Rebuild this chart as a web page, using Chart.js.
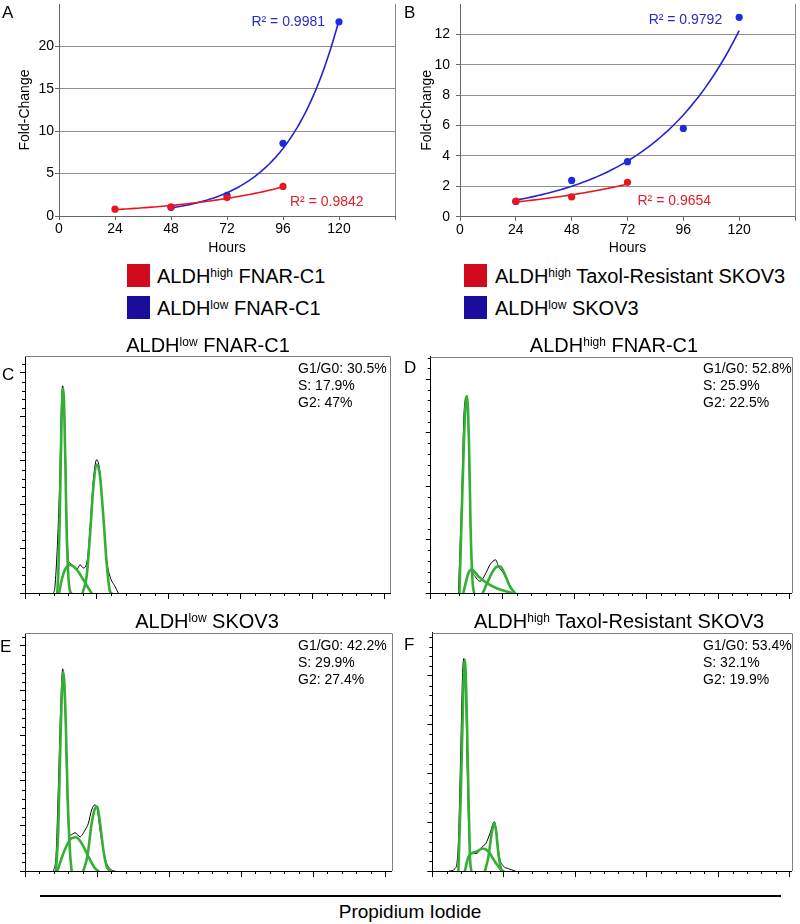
<!DOCTYPE html>
<html>
<head>
<meta charset="utf-8">
<script src="https://cdn.jsdelivr.net/npm/chart.js@4.4.1/dist/chart.umd.min.js"></script>
<style>
  body { margin: 0; width: 800px; height: 924px; position: relative; background: #fff; overflow: hidden;
         font-family: "Liberation Sans", Arial, Helvetica, sans-serif; color: #000; }
  canvas { position: absolute; }
  .t { position: absolute; white-space: nowrap; line-height: 1; }
  .t sup { font-size: 12px; vertical-align: 6px; line-height: 0; }
  .letter { font-size: 17px; }
  .leg { font-size: 20px; }
  .sw { position: absolute; width: 23px; height: 23px; }
  .ttl { font-size: 20px; transform: translateX(-50%); }
  .ann { position: absolute; font-size: 14px; line-height: 17.2px; white-space: nowrap; }
  .rule { position: absolute; left: 40px; top: 895px; width: 741px; height: 2px; background: #000; }
</style>
</head>
<body>
<canvas id="chartA" width="400" height="260" style="left:0;top:0"></canvas>
<canvas id="chartB" width="400" height="260" style="left:400px;top:0"></canvas>
<canvas id="chartC" width="400" height="260" style="left:0;top:350px"></canvas>
<canvas id="chartD" width="400" height="260" style="left:400px;top:350px"></canvas>
<canvas id="chartE" width="400" height="260" style="left:0;top:627px"></canvas>
<canvas id="chartF" width="400" height="260" style="left:400px;top:627px"></canvas>

<div class="t letter" style="left:2px;top:4px">A</div>
<div class="t letter" style="left:404px;top:4px">B</div>
<div class="t letter" style="left:2px;top:366px">C</div>
<div class="t letter" style="left:404px;top:359px">D</div>
<div class="t letter" style="left:0;top:638px">E</div>
<div class="t letter" style="left:404px;top:636px">F</div>

<div class="sw" style="left:127px;top:264px;background:#d20a1e"></div>
<div class="t leg" style="left:157px;top:266px">ALDH<sup>high</sup> FNAR-C1</div>
<div class="sw" style="left:127px;top:296px;background:#1a0d9e"></div>
<div class="t leg" style="left:157px;top:298px">ALDH<sup>low</sup> FNAR-C1</div>
<div class="sw" style="left:464px;top:264px;background:#d20a1e"></div>
<div class="t leg" style="left:495px;top:266px">ALDH<sup>high</sup> Taxol-Resistant SKOV3</div>
<div class="sw" style="left:464px;top:296px;background:#1a0d9e"></div>
<div class="t leg" style="left:495px;top:298px">ALDH<sup>low</sup> SKOV3</div>

<div class="t ttl" style="left:208px;top:335px">ALDH<sup>low</sup> FNAR-C1</div>
<div class="t ttl" style="left:614px;top:335px">ALDH<sup>high</sup> FNAR-C1</div>
<div class="t ttl" style="left:207px;top:611px">ALDH<sup>low</sup> SKOV3</div>
<div class="t ttl" style="left:619px;top:611px">ALDH<sup>high</sup> Taxol-Resistant SKOV3</div>

<div class="ann" style="left:298px;top:360px">G1/G0: 30.5%<br>S: 17.9%<br>G2: 47%</div>
<div class="ann" style="left:703px;top:360px">G1/G0: 52.8%<br>S: 25.9%<br>G2: 22.5%</div>
<div class="ann" style="left:298px;top:637px">G1/G0: 42.2%<br>S: 29.9%<br>G2: 27.4%</div>
<div class="ann" style="left:703px;top:637px">G1/G0: 53.4%<br>S: 32.1%<br>G2: 19.9%</div>

<div class="rule"></div>
<div class="t" style="left:410px;top:902px;font-size:19px;transform:translateX(-50%)">Propidium Iodide</div>

<script>
const FONT = '"Liberation Sans", Arial, Helvetica, sans-serif';
const RED = '#e8161e';
const BLUE = '#1c2ce6';
const BLUE_LINE = '#2323cf';
const GREEN = '#33b033';

// --- growth curves (fold-change vs hours) ---
const hourTicks = [0, 24, 48, 72, 96, 120, 144];
const hourTickLabels = ['0', '24', '48', '72', '96', '120', ''];

const hoursA_high = [24, 48, 72, 96];
const foldA_high = [0.81, 1.08, 2.17, 3.49];
const hoursA_low = [48, 72, 96, 120];
const foldA_low = [1.0, 2.44, 8.57, 22.9];
const foldTicksA = [0, 5, 10, 15, 20];
const r2TextA = ['R\u00b2 = 0.9981', 'R\u00b2 = 0.9842'];

const hoursB_high = [24, 48, 72];
const foldB_high = [1.02, 1.3, 2.26];
const hoursB_low = [24, 48, 72, 96, 120];
const foldB_low = [1.0, 2.39, 3.62, 5.81, 13.12];
const foldTicksB = [0, 2, 4, 6, 8, 10, 12];
const r2TextB = ['R\u00b2 = 0.9792', 'R\u00b2 = 0.9654'];

// --- DNA content histograms: [channel, count] ---
const histMajorX = [0, 50, 100, 150, 200, 250];
const histMajorY = [0, 100, 200, 300, 400, 500];

const rawC = [[19.7,0],[20.8,15],[23.8,220],[25.5,447],[26.2,471],[27.8,371],[28.9,182],[30.1,76],[31.3,68],[33.6,61],[35.9,53],[38.2,64],[40.5,57],[43.3,76],[45.1,144],[47.5,258],[49.8,303],[52.1,273],[54.4,174],[56.7,76],[59,38],[62.5,15],[64.8,0]];
const g1C = [[22.4,0],[23.3,60],[24.2,182],[25.5,409],[26.6,466],[27.8,333],[28.9,144],[30.1,38],[31.3,4],[32,0]];
const sC = [[23.7,0],[25.5,30],[27.8,53],[31.3,64],[35.9,53],[40.5,30],[44,11],[46.3,0]];
const g2C = [[40,0],[42.8,38],[45.1,129],[47.5,242],[50,292],[52.1,265],[54.4,174],[56.7,68],[59,4],[60,0]];

const rawD = [[19.3,0],[21.6,181],[23.2,336],[25.1,368],[26.2,305],[27.4,150],[28.5,56],[30.9,31],[34.3,22],[37.8,34],[41.3,53],[45.2,62],[47.1,50],[50.6,37],[54.1,19],[58.7,0]];
const g1D = [[20,0],[22.3,212],[23.9,336],[25.3,368],[26.7,274],[27.8,118],[29.2,19],[30.2,0]];
const sD = [[22.7,0],[26.2,37],[28.5,44],[33.2,31],[39,19],[45.9,9],[56.4,0]];
const g2D = [[36.2,0],[39.4,19],[42.5,37],[45.9,49],[48.3,50],[51.7,34],[55.2,12],[58.7,0]];

const rawE = [[19.7,0],[21.5,32],[23.1,180],[24.8,365],[26.2,449],[27.8,365],[28.9,213],[30.1,104],[31.7,80],[34.7,85],[38.2,76],[41.7,91],[44,106],[46.3,136],[48.6,147],[50.2,136],[52.1,91],[54.4,47],[56.7,17],[60.2,2],[62.5,0]];
const g1E = [[21.5,0],[23.1,91],[24.8,313],[26.6,443],[28.2,343],[29.6,165],[31.3,39],[32.4,0]];
const sE = [[22.5,0],[26.6,39],[31.3,70],[35.4,75],[39.4,61],[44,32],[48.6,6],[50.9,0]];
const g2E = [[40.5,0],[43.3,32],[46.3,106],[48.6,139],[50.2,143],[52.1,106],[54.4,47],[56.7,10],[59,0]];

const rawF = [[12,0],[15.9,5],[18.2,57],[19.8,236],[21.2,407],[22.1,436],[23.3,371],[24.5,200],[25.9,57],[27.5,36],[31,36],[34.5,49],[37.5,57],[40.3,77],[43.4,101],[45,77],[46.9,29],[49.7,10],[53.1,5],[57.8,0]];
const g1F = [[18.2,0],[20,166],[21.7,371],[22.8,433],[24,337],[25.2,166],[26.3,29],[27.3,0]];
const sF = [[22.8,0],[25.2,29],[27.5,36],[31,40],[35.2,46],[39.2,40],[43.8,19],[48.5,0]];
const g2F = [[36.8,0],[39.2,29],[41.5,77],[43.4,98],[44.5,84],[46.2,36],[48,5],[49.7,0]];

const toPts = (xs, ys) => xs.map((x, i) => ({ x: x, y: ys[i] }));
const fromPairs = arr => arr.map(p => ({ x: p[0], y: p[1] }));

// exponential trendline y = e^(a + b x), least squares on ln(y) (same as the spreadsheet fit)
function expFit(xs, ys) {
    let n = xs.length, sx = 0, sy = 0, sxy = 0, sxx = 0;
    xs.forEach((x, i) => {
        let ly = Math.log(ys[i]);
        sx += x; sy += ly; sxy += x * ly; sxx += x * x;
    });
    let b = (n * sxy - sx * sy) / (n * sxx - sx * sx);
    let a = (sy - b * sx) / n;
    return { a, b };
}

function trendLine(xs, ys) {
    const f = expFit(xs, ys);
    const x0 = xs[0], x1 = xs[xs.length - 1];
    const out = [];
    for (let i = 0; i <= 60; i++) {
        const x = x0 + (x1 - x0) * i / 60;
        out.push({ x: x, y: Math.exp(f.a + f.b * x) });
    }
    return out;
}

const r2Plugin = {
    id: 'r2labels',
    afterDatasetsDraw(chart, args, opts) {
        const ctx = chart.ctx, xs = chart.scales.x, ys = chart.scales.y;
        ctx.save();
        ctx.font = '14px ' + FONT;
        ctx.textBaseline = 'middle';
        (opts.items || []).forEach(it => {
            ctx.fillStyle = it.color;
            ctx.textAlign = it.align;
            ctx.fillText(it.text, xs.getPixelForValue(it.x), ys.getPixelForValue(it.y));
        });
        ctx.restore();
    }
};

const rightEdge = {
    id: 'rightEdge',
    beforeDatasetsDraw(chart) {
        const { ctx, chartArea: a } = chart;
        ctx.save();
        ctx.strokeStyle = '#8a8a8a';
        ctx.lineWidth = 1;
        ctx.beginPath();
        ctx.moveTo(Math.round(a.right) + 0.5, a.top);
        ctx.lineTo(Math.round(a.right) + 0.5, a.bottom);
        ctx.stroke();
        ctx.restore();
    }
};

function noPad(s) {
    s.paddingTop = 0; s.paddingBottom = 0; s.paddingLeft = 0; s.paddingRight = 0;
}

function growthChart(id, cfg) {
    return new Chart(document.getElementById(id), {
        type: 'scatter',
        data: {
            datasets: [
                { data: toPts(cfg.hx, cfg.hy), backgroundColor: RED, borderColor: RED, pointRadius: 3.6, pointBorderWidth: 0 },
                { data: toPts(cfg.lx, cfg.ly), backgroundColor: BLUE, borderColor: BLUE, pointRadius: 3.6, pointBorderWidth: 0 },
                { data: trendLine(cfg.hx, cfg.hy), showLine: true, borderColor: RED, borderWidth: 1.6, pointRadius: 0, fill: false },
                { data: trendLine(cfg.lx, cfg.ly), showLine: true, borderColor: BLUE_LINE, borderWidth: 1.6, pointRadius: 0, fill: false }
            ]
        },
        plugins: [rightEdge, r2Plugin],
        options: {
            responsive: false,
            animation: false,
            events: [],
            layout: { padding: { top: cfg.padTop, right: 5, bottom: 3, left: 0 } },
            plugins: {
                legend: { display: false },
                tooltip: { enabled: false },
                r2labels: { items: cfg.r2 }
            },
            scales: {
                x: {
                    type: 'linear', min: 0, max: 144,
                    afterBuildTicks: s => { s.ticks = hourTicks.map(v => ({ value: v })); },
                    afterFit: s => { s.height = cfg.xAxisH; noPad(s); },
                    grid: { drawOnChartArea: false, tickLength: 4, tickColor: '#666' },
                    border: { color: '#666' },
                    ticks: { color: '#000', font: { size: 14, family: FONT }, padding: 1, maxRotation: 0,
                             callback: (v, i) => hourTickLabels[i] },
                    title: { display: true, text: 'Hours', color: '#000', font: { size: 14, family: FONT },
                             padding: { top: 0, bottom: 0 } }
                },
                y: {
                    min: 0, max: cfg.yMax,
                    afterBuildTicks: s => { s.ticks = cfg.yTicks.map(v => ({ value: v })); },
                    afterFit: s => { s.width = cfg.yAxisW; noPad(s); },
                    grid: { color: '#8f8f8f', tickLength: 4, tickColor: '#666' },
                    border: { color: '#666' },
                    ticks: { color: '#000', font: { size: 14, family: FONT }, padding: cfg.yTickPad },
                    title: { display: true, text: 'Fold-Change', color: '#000', font: { size: 14, family: FONT },
                             padding: { top: cfg.titlePad, bottom: 0 } }
                }
            }
        }
    });
}

growthChart('chartA', {
    hx: hoursA_high, hy: foldA_high, lx: hoursA_low, ly: foldA_low,
    yMax: 25, yTicks: foldTicksA, yAxisW: 59, padTop: 1, xAxisH: 41, titlePad: 16.6, yTickPad: 1,
    r2: [
        { text: r2TextA[0], x: 114, y: 22.9, color: '#2a2ac8', align: 'right' },
        { text: r2TextA[1], x: 99, y: 1.63, color: '#e0202a', align: 'left' }
    ]
});

growthChart('chartB', {
    hx: hoursB_high, hy: foldB_high, lx: hoursB_low, ly: foldB_low,
    yMax: 14, yTicks: foldTicksB, yAxisW: 60, padTop: 1.5, xAxisH: 40.3, titlePad: 19, yTickPad: 6,
    r2: [
        { text: r2TextB[0], x: 112.7, y: 12.93, color: '#2a2ac8', align: 'right' },
        { text: r2TextB[1], x: 76.3, y: 1.02, color: '#e0202a', align: 'left' }
    ]
});

// box + minor ticks for the histograms
const histFrame = {
    id: 'histFrame',
    beforeDatasetsDraw(chart) {
        const { ctx, chartArea: a } = chart;
        ctx.save();
        ctx.strokeStyle = '#808080';
        ctx.lineWidth = 1;
        ctx.beginPath();
        ctx.moveTo(a.left, Math.round(a.top) + 0.5);
        ctx.lineTo(Math.round(a.right) + 0.5, Math.round(a.top) + 0.5);
        ctx.lineTo(Math.round(a.right) + 0.5, a.bottom);
        ctx.stroke();
        ctx.restore();
    },
    afterDraw(chart) {
        const { ctx, chartArea: a, scales } = chart;
        ctx.save();
        ctx.strokeStyle = '#000';
        ctx.lineWidth = 1;
        ctx.beginPath();
        for (let v = 10; v < scales.x.max; v += 10) {
            if (v % 50 === 0) continue;
            const px = Math.round(scales.x.getPixelForValue(v)) + 0.5;
            ctx.moveTo(px, a.bottom);
            ctx.lineTo(px, a.bottom + 3);
        }
        for (let v = 20; v < scales.y.max; v += 20) {
            if (v % 100 === 0) continue;
            const py = Math.round(scales.y.getPixelForValue(v)) + 0.5;
            ctx.moveTo(a.left - 3, py);
            ctx.lineTo(a.left, py);
        }
        ctx.stroke();
        ctx.restore();
    }
};

function histChart(id, cfg) {
    const line = (arr, color, w) => ({
        data: fromPairs(arr), showLine: true, borderColor: color, borderWidth: w, pointRadius: 0,
        fill: false, cubicInterpolationMode: 'monotone', borderJoinStyle: 'round', borderCapStyle: 'round'
    });
    // first dataset is drawn last: green fits over the thin black histogram
    return new Chart(document.getElementById(id), {
        type: 'scatter',
        data: {
            datasets: [
                line(cfg.g1, GREEN, 2.6),
                line(cfg.s, GREEN, 2.6),
                line(cfg.g2, GREEN, 2.6),
                line(cfg.raw, '#000', 1)
            ]
        },
        plugins: [histFrame],
        options: {
            responsive: false,
            animation: false,
            events: [],
            layout: { padding: { top: cfg.padTop, right: cfg.padRight, bottom: 0, left: 0 } },
            plugins: { legend: { display: false }, tooltip: { enabled: false } },
            scales: {
                x: {
                    type: 'linear', min: 0, max: cfg.xMax,
                    afterBuildTicks: s => { s.ticks = histMajorX.map(v => ({ value: v })); },
                    afterFit: s => { s.height = cfg.axisH; noPad(s); },
                    grid: { drawOnChartArea: false, tickLength: 6, tickColor: '#000' },
                    border: { color: '#000' },
                    ticks: { display: false }
                },
                y: {
                    min: 0, max: cfg.yMax,
                    afterBuildTicks: s => { s.ticks = histMajorY.filter(v => v <= cfg.yMax).map(v => ({ value: v })); },
                    afterFit: s => { s.width = cfg.axisW; noPad(s); },
                    grid: { drawOnChartArea: false, tickLength: 5, tickColor: '#000' },
                    border: { color: '#000' },
                    ticks: { display: false }
                }
            }
        }
    });
}

histChart('chartC', { raw: rawC, g1: g1C, s: sC, g2: g2C, xMax: 253.5, yMax: 538.6, axisW: 25, padTop: 6, padRight: 10, axisH: 17 });
histChart('chartD', { raw: rawD, g1: g1D, s: sD, g2: g2D, xMax: 251.2, yMax: 441.7, axisW: 30.7, padTop: 6.7, padRight: 8.3, axisH: 17 });
histChart('chartE', { raw: rawE, g1: g1E, s: sE, g2: g2E, xMax: 254.6, yMax: 528, axisW: 25, padTop: 6.3, padRight: 8.3, axisH: 16 });
histChart('chartF', { raw: rawF, g1: g1F, s: sF, g2: g2F, xMax: 251.2, yMax: 488.8, axisW: 32.3, padTop: 5.7, padRight: 8.3, axisH: 16 });
</script>
</body>
</html>
